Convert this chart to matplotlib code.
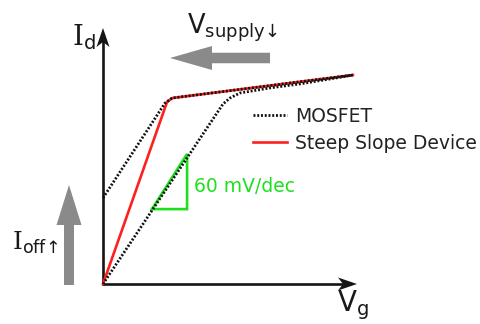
import matplotlib
matplotlib.use("Agg")
import matplotlib.pyplot as plt
from matplotlib.patches import FancyArrow, Polygon

plt.rcParams["font.family"] = ["DejaVu Sans"]
plt.rcParams["mathtext.fontset"] = "custom"
plt.rcParams["mathtext.rm"] = "DejaVu Serif"
plt.rcParams["mathtext.sf"] = "DejaVu Sans"
plt.rcParams["mathtext.it"] = "DejaVu Sans:italic"

# Gate voltage (arbitrary units) and log drain current (arbitrary units)
vg_steep = [0.0, 2.52, 2.72, 9.84]
id_steep = [0.0, 7.19, 7.35, 8.26]

vg_mos_low_vt = [0.0, 2.44, 2.72, 9.84]
id_mos_low_vt = [3.40, 7.15, 7.35, 8.26]

vg_mos = [0.0, 4.72, 5.00, 5.39, 6.57, 7.76, 9.33, 9.84]
id_mos = [0.0, 7.11, 7.35, 7.55, 7.75, 7.91, 8.17, 8.26]

# 60 mV/dec slope triangle
tri_vg = [1.93, 3.31, 3.31, 1.93]
tri_id = [2.96, 2.96, 5.14, 2.96]

legend_labels = ["MOSFET", "Steep Slope Device"]
slope_label = "60 mV/dec"
down_arrow = "\u2193"
up_arrow = "\u2191"

W, H = 481, 324
fig = plt.figure(figsize=(W / 100, H / 100), dpi=100)
fig.patch.set_facecolor("white")

# overlay in pixel units for axes arrows, labels and annotation arrows
ov = fig.add_axes([0, 0, 1, 1])
ov.set_xlim(0, W)
ov.set_ylim(H, 0)
ov.axis("off")

# plotting area: origin of the sketch axes
ax = fig.add_axes([103 / W, 40 / H, 254 / W, 253 / H])
ax.set_xlim(0, 10)
ax.set_ylim(0, 10)
ax.axis("off")
ax.patch.set_alpha(0)

dots = (0, (0.7, 0.65))
red = "#ff1f1f"
green = "#1fe01f"
(l_mos,) = ax.plot(vg_mos, id_mos, color="#111111", lw=2.0, ls=dots,
                   clip_on=False, zorder=3)
ax.plot(vg_steep, id_steep, color=red, lw=1.9, clip_on=False,
        solid_joinstyle="round", zorder=2)
ax.plot(vg_mos_low_vt, id_mos_low_vt, color="#111111", lw=2.0, ls=dots,
        clip_on=False, zorder=3)
(l_steep,) = ax.plot([], [], color=red, lw=1.9)
ax.plot(tri_vg, tri_id, color=green, lw=1.9, clip_on=False,
        solid_joinstyle="miter")
ax.text(3.6, 3.85, slope_label, color=green, fontsize=13.5,
        ha="left", va="center")

leg = ax.legend([l_mos, l_steep], legend_labels, frameon=False,
                loc="upper left", bbox_to_anchor=(253 / W, 1 - 107 / H),
                bbox_transform=fig.transFigure, fontsize=13.5,
                borderpad=0, borderaxespad=0, handlelength=1.8,
                handletextpad=0.45, labelspacing=0.42)
for t in leg.get_texts():
    t.set_color("#222222")

# axes with notched arrow heads
axc = "#151515"
ov.plot([103, 103], [285, 40], color=axc, lw=1.9, solid_capstyle="butt")
ov.plot([102, 345], [284, 284], color=axc, lw=1.9, solid_capstyle="butt")
ov.add_patch(Polygon([(103, 28), (96.5, 47), (103, 42), (109.5, 47)],
                     closed=True, color=axc, lw=0))
ov.add_patch(Polygon([(357, 284), (338, 277.5), (343, 284), (338, 290.5)],
                     closed=True, color=axc, lw=0))

# grey trend arrows
grey = "#8a8a8a"
ov.add_patch(FancyArrow(69, 285, 0, -100, width=10, head_width=25,
                        head_length=40, length_includes_head=True,
                        color=grey, lw=0))
ov.add_patch(FancyArrow(270, 58, -100, 0, width=10.5, head_width=24,
                        head_length=42, length_includes_head=True,
                        color=grey, lw=0))

# axis and trend labels
tc = "#1a1a1a"
ov.text(72, 45, r"$\mathrm{I}_{\mathsf{d}}$", fontsize=20, color=tc,
        ha="left", va="baseline")
ov.text(337, 311, r"$\mathsf{V}_{\mathsf{g}}$", fontsize=20, color=tc,
        ha="left", va="baseline")
ov.text(187, 33, r"$\mathsf{V}_{\mathsf{supply" + down_arrow + "}}$",
        fontsize=18.5, color=tc, ha="left", va="baseline")
ov.text(12, 250, r"$\mathrm{I}_{\mathsf{off" + up_arrow + "}}$",
        fontsize=18, color=tc, ha="left", va="baseline")

fig.savefig("out.png", dpi=100, facecolor="white")
